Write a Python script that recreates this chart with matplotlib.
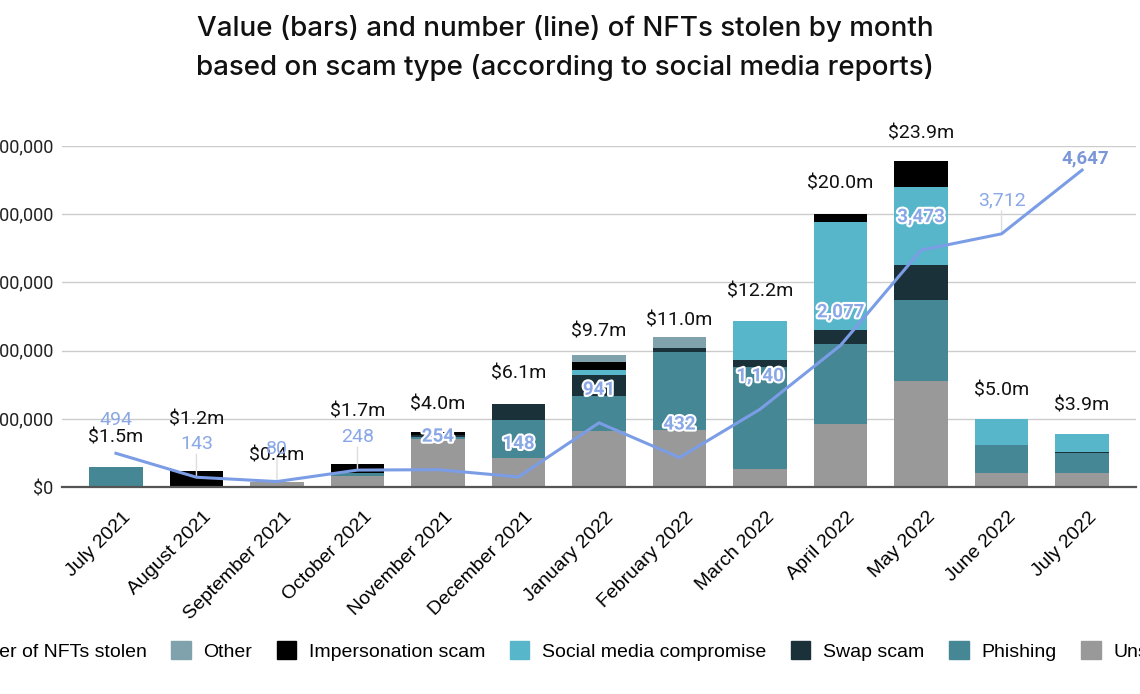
import numpy as np
import matplotlib
matplotlib.use("Agg")
import matplotlib.pyplot as plt
import matplotlib.patheffects as pe
import matplotlib.transforms as mtrans
from matplotlib.lines import Line2D
from matplotlib.patches import Patch

months = ["July 2021", "August 2021", "September 2021", "October 2021",
          "November 2021", "December 2021", "January 2022", "February 2022",
          "March 2022", "April 2022", "May 2022", "June 2022", "July 2022"]

# value stolen, $ millions, per scam type (bottom to top)
unspecified = [0.0, 0.0, 0.4, 0.8, 3.5, 2.1, 4.1, 4.2, 1.3, 4.6, 7.8, 1.0, 1.0]
phishing = [1.5, 0.0, 0.0, 0.2, 0.2, 2.8, 2.6, 5.7, 7.5, 5.9, 5.9, 2.1, 1.5]
swap_scam = [0.0, 0.0, 0.0, 0.0, 0.1, 1.2, 1.5, 0.3, 0.5, 1.0, 2.6, 0.0, 0.05]
social_media = [0.0, 0.0, 0.0, 0.0, 0.0, 0.0, 0.4, 0.0, 2.9, 7.9, 5.7, 1.9, 1.35]
impersonation = [0.0, 1.2, 0.0, 0.7, 0.2, 0.0, 0.6, 0.0, 0.0, 0.6, 1.9, 0.0, 0.0]
other = [0.0, 0.0, 0.0, 0.0, 0.0, 0.0, 0.5, 0.8, 0.0, 0.0, 0.0, 0.0, 0.0]

totals = [1.5, 1.2, 0.4, 1.7, 4.0, 6.1, 9.7, 11.0, 12.2, 20.0, 23.9, 5.0, 3.9]
nfts_stolen = [494, 143, 80, 248, 254, 148, 941, 432, 1140, 2077, 3473, 3712, 4647]

# layout only: pixel gaps of the total labels above the bars
total_gap = [29, 51, 26, 52, 28, 30, 23, 16, 29, 31, 28, 28, 28]
# which count labels sit on a bar (white outline) vs. plain with a leader
on_bar = [False, False, False, False, True, True, True, True, True, True, True, False, False]

series = [
    ("Unspecified", unspecified, "#999999"),
    ("Phishing", phishing, "#468795"),
    ("Swap scam", swap_scam, "#1b313a"),
    ("Social media compromise", social_media, "#58b6cb"),
    ("Impersonation scam", impersonation, "#000000"),
    ("Other", other, "#7fa2ad"),
]

line_col = "#7b9de6"
label_col = "#8aa7e6"

fig = plt.figure(figsize=(11.4, 6.94), dpi=100)
ax = fig.add_axes([62 / 1140, 1 - 487 / 694, (1136 - 62) / 1140, (487 - 146) / 694])

x = np.arange(len(months))
bottom = np.zeros(len(months))
for name, vals, col in series:
    v = np.array(vals) * 1e6
    ax.bar(x, v, 0.66, bottom=bottom, color=col, zorder=2)
    bottom += v

ax.set_xlim(-0.67, len(months) - 0.33)
ax.set_ylim(0, 25e6)
ax.set_yticks(np.arange(0, 25e6 + 1, 5e6))
ax.set_yticklabels(["$0" if t == 0 else "${:,.0f}".format(t) for t in np.arange(0, 25e6 + 1, 5e6)],
                   fontsize=13, family="Roboto", color="#222222")
ax.grid(axis="y", color="#cccccc", lw=1, zorder=0)
for s in ["top", "right", "left"]:
    ax.spines[s].set_visible(False)
ax.spines["bottom"].set_color("#555555")
ax.spines["bottom"].set_linewidth(1.6)
ax.spines["bottom"].set_zorder(5)
ax.tick_params(axis="y", length=0, pad=6)
ax.tick_params(axis="x", length=0, pad=4)
ax.set_xticks(x)
ax.set_xticklabels(months, rotation=45, ha="right", rotation_mode="anchor",
                   fontsize=14, family="Liberation Sans")
shift = mtrans.ScaledTranslation(6 / 100, -16 / 100, fig.dpi_scale_trans)
for lab in ax.get_xticklabels():
    lab.set_transform(lab.get_transform() + shift)

px = 72 / 100  # points per pixel
for i, t in enumerate(totals):
    ax.annotate("${:.1f}m".format(t), (x[i], bottom[i]), xytext=(0, total_gap[i] * px),
                textcoords="offset points", ha="center", va="center",
                fontsize=14, family="Roboto", color="#111111", zorder=6)

ax2 = ax.twinx()
ax2.set_ylim(0, 5000)
ax2.axis("off")
ax2.plot(x, nfts_stolen, color=line_col, lw=2.2, zorder=3)

for i, n in enumerate(nfts_stolen):
    txt = "{:,}".format(n)
    if i == len(nfts_stolen) - 1:
        ax2.annotate(txt, (x[i], n), xytext=(3 * px, 12 * px), textcoords="offset points",
                     ha="center", va="center", fontsize=13.5, fontweight="bold",
                     family="Roboto", color="#7b97d8", zorder=6)
    elif on_bar[i]:
        ax2.annotate(txt, (x[i], n), xytext=(0, 33 * px), textcoords="offset points",
                     ha="center", va="center", fontsize=13.5, fontweight="bold",
                     family="Roboto", color=label_col, zorder=6,
                     path_effects=[pe.withStroke(linewidth=3, foreground="white")])
    else:
        ax2.annotate(txt, (x[i], n), xytext=(0, 33 * px), textcoords="offset points",
                     ha="center", va="center", fontsize=14, family="Roboto",
                     color=label_col, zorder=6)
        if i > 0:
            ax2.annotate("", (x[i], n), xytext=(0, 23 * px), textcoords="offset points",
                         arrowprops=dict(arrowstyle="-", color="#dddddd", lw=1,
                                         shrinkA=0, shrinkB=0), zorder=1)

fig.text(565 / 1140, 1 - 48 / 694,
         "Value (bars) and number (line) of NFTs stolen by month\nbased on scam type (according to social media reports)",
         ha="center", va="center", fontsize=20, family="Inter", fontweight="medium",
         color="#111111", linespacing=1.55)

handles = [Line2D([], [], color=line_col, lw=2.2)]
labels = ["Number of NFTs stolen"]
for name, vals, col in series[::-1]:
    handles.append(Patch(color=col))
    labels.append(name)
fig.legend(handles, labels, loc="center", bbox_to_anchor=(565 / 1140, 1 - 651 / 694),
           ncol=7, frameon=False, prop={"family": "Liberation Sans", "size": 14},
           handlelength=1.0, handleheight=1.0, handletextpad=0.65, columnspacing=1.27)

fig.savefig("out.png", dpi=100)
